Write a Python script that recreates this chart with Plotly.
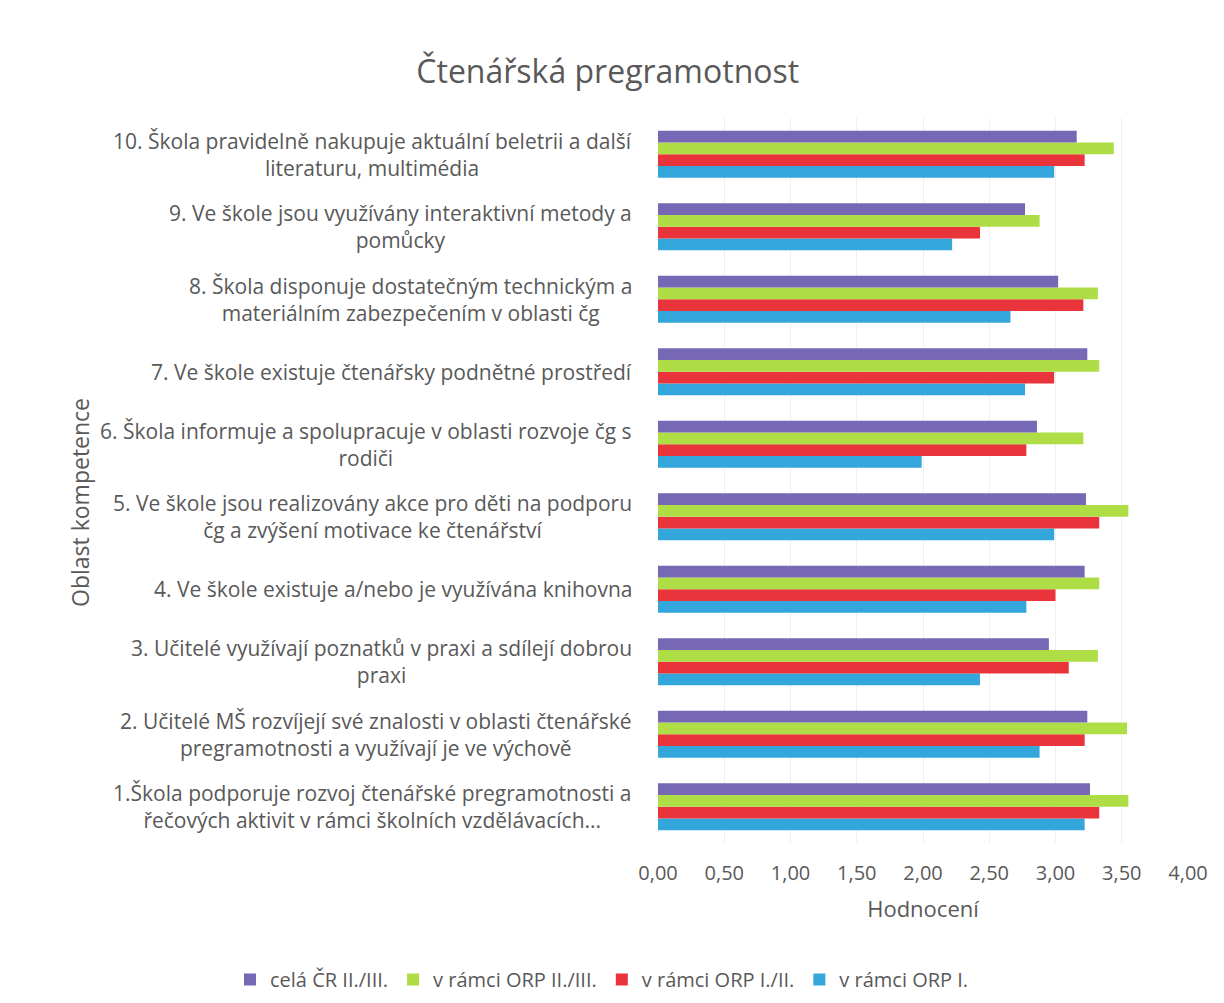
import plotly.graph_objects as go

categories = [
    "1.Škola podporuje rozvoj čtenářské pregramotnosti a<br>řečových aktivit v rámci školních vzdělávacích...",
    "2. Učitelé MŠ rozvíjejí své znalosti v oblasti čtenářské<br>pregramotnosti a využívají je ve výchově",
    "3. Učitelé využívají poznatků v praxi a sdílejí dobrou<br>praxi",
    "4. Ve škole existuje a/nebo je využívána knihovna",
    "5. Ve škole jsou realizovány akce pro děti na podporu<br>čg a zvýšení motivace ke čtenářství",
    "6. Škola informuje a spolupracuje v oblasti rozvoje čg s<br>rodiči",
    "7. Ve škole existuje čtenářsky podnětné prostředí",
    "8. Škola disponuje dostatečným technickým a<br>materiálním zabezpečením v oblasti čg",
    "9. Ve škole jsou využívány interaktivní metody a<br>pomůcky",
    "10. Škola pravidelně nakupuje aktuální beletrii a další<br>literaturu, multimédia",
]

cela_cr = [3.26, 3.24, 2.95, 3.22, 3.23, 2.86, 3.24, 3.02, 2.77, 3.16]
orp_2_3 = [3.55, 3.54, 3.32, 3.33, 3.55, 3.21, 3.33, 3.32, 2.88, 3.44]
orp_1_2 = [3.33, 3.22, 3.10, 3.00, 3.33, 2.78, 2.99, 3.21, 2.43, 3.22]
orp_1 = [3.22, 2.88, 2.43, 2.78, 2.99, 1.99, 2.77, 2.66, 2.22, 2.99]

series_names = ["celá ČR II./III.", "v rámci ORP II./III.", "v rámci ORP I./II.", "v rámci ORP I."]
colors = ["#7668B4", "#AEDD45", "#E8343A", "#33A6DB"]
values = [cela_cr, orp_2_3, orp_1_2, orp_1]

FONT = "'Open Sans', sans-serif"
GRAY = "#595959"

L, R, T, B = 650, 44, 110, 168
W, H = 1224, 1003
PW, PH = W - L - R, H - T - B

fig = go.Figure()
# add in reverse so the first series is drawn at the top of each group
for name, col, vals in reversed(list(zip(series_names, colors, values))):
    fig.add_trace(go.Bar(
        y=categories, x=vals, name=name, orientation="h",
        marker=dict(color=col, line=dict(width=0)),
    ))

for cat in categories:
    fig.add_annotation(
        x=0, xref="paper", y=cat, yref="y", xanchor="right", yanchor="middle",
        xshift=-24, text=cat, showarrow=False, align="center",
        font=dict(family=FONT, size=21, color=GRAY),
    )

fig.add_annotation(
    x=(72 - L) / PW, xref="paper", y=1 - (495 - T) / PH, yref="paper", text="Oblast kompetence",
    textangle=-90, showarrow=False, xanchor="center", yanchor="middle",
    font=dict(family=FONT, size=23, color=GRAY),
)

fig.update_layout(
    width=W, height=H,
    paper_bgcolor="white", plot_bgcolor="white",
    separators=", ",
    title=dict(text="Čtenářská pregramotnost", x=0.49, xanchor="center",
               y=1 - 64 / H, yanchor="middle", yref="container",
               font=dict(family=FONT, size=32, color=GRAY)),
    margin=dict(l=L, r=R, t=T, b=B, autoexpand=False),
    barmode="group", bargap=0.35, bargroupgap=0.0,
    showlegend=True,
    legend=dict(orientation="h", traceorder="reversed",
                xref="paper", x=(222 - L) / PW, xanchor="left",
                yref="paper", y=-(952 - (H - B)) / PH, yanchor="top",
                font=dict(family=FONT, size=20, color=GRAY),
                itemwidth=30, tracegroupgap=0, maxheight=120),
    xaxis=dict(range=[0, 4], dtick=0.5, tickformat=".2f", showgrid=True, gridcolor="#F0F0F0",
               zeroline=False, showline=False, ticks="", ticklabelstandoff=16,
               tickfont=dict(family=FONT, size=20, color=GRAY),
               title=dict(text="Hodnocení", font=dict(family=FONT, size=22, color=GRAY), standoff=16)),
    yaxis=dict(showticklabels=False, showgrid=False, zeroline=False, showline=False, ticks=""),
)

fig.write_html("out.html")
